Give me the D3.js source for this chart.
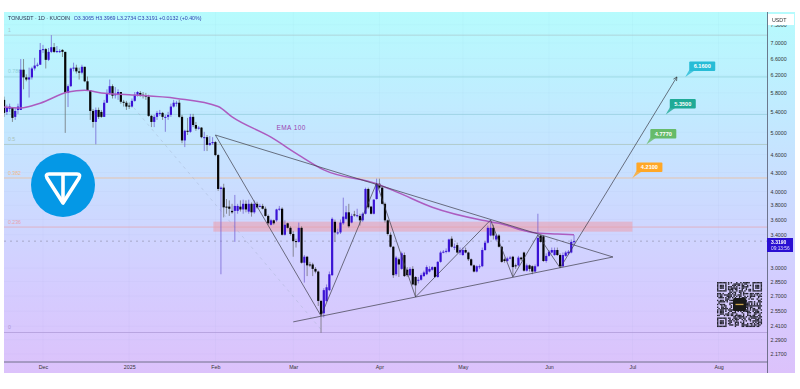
<!DOCTYPE html>
<html><head><meta charset="utf-8">
<script src="https://cdnjs.cloudflare.com/ajax/libs/d3/7.8.5/d3.min.js"></script>
<style>html,body{margin:0;padding:0;background:#fff}svg{display:block;filter:blur(.3px)}text{font-family:"Liberation Sans",Arial,sans-serif}</style>
</head><body><svg id="c" width="800" height="389"></svg>
<script>
const startDate = "2024-11-17";
const opens = [5.65,5.40,5.46,5.49,5.30,5.44,5.44,6.33,6.15,6.10,
6.15,6.36,6.43,6.45,6.82,6.84,6.57,6.77,6.89,6.77,
6.79,6.82,6.77,5.80,5.95,6.36,6.38,6.29,6.26,6.40,
6.06,5.86,5.42,5.20,5.44,5.40,5.30,5.59,5.80,5.95,
5.76,5.76,5.82,5.61,5.59,5.53,5.51,5.63,5.76,5.80,
5.76,5.74,5.72,5.32,5.20,5.30,5.38,5.38,5.30,5.30,
5.34,5.51,5.59,5.59,5.30,4.85,5.03,5.01,5.30,5.14,
5.07,5.09,4.91,4.91,4.77,4.80,4.82,4.59,4.04,4.06,
3.78,3.78,3.72,3.72,3.72,3.78,3.74,3.82,3.71,3.82,
3.70,3.82,3.79,3.79,3.75,3.65,3.53,3.59,3.59,3.74,
3.75,3.40,3.55,3.49,3.41,3.32,3.31,3.49,3.06,3.13,
3.04,3.04,2.99,2.96,2.65,2.53,2.65,2.76,2.92,3.57,
3.43,3.43,3.55,3.61,3.70,3.56,3.67,3.65,3.65,3.59,
3.68,4.04,3.78,3.68,3.89,4.12,4.06,3.82,3.59,3.40,
3.25,2.93,3.10,2.99,3.15,2.98,2.92,2.99,2.90,2.86,
2.87,2.91,2.93,2.96,2.98,3.01,2.90,3.07,3.18,3.19,
3.19,3.35,3.25,3.27,3.18,3.15,3.21,3.18,3.10,3.03,
2.96,3.02,3.02,3.21,3.30,3.39,3.49,3.34,3.39,3.25,
3.10,3.08,3.11,3.13,3.03,3.03,3.12,3.18,2.97,3.03,
3.02,2.96,3.02,3.39,3.38,3.08,3.14,3.18,3.15,3.21,
3.15,3.02,3.14,3.17,3.18,3.3065];
const highs = [5.72,5.55,5.57,5.50,5.49,5.57,6.59,6.59,6.22,6.38,
6.40,6.62,6.50,7.00,6.95,6.87,6.87,7.21,7.00,6.92,
6.84,6.84,6.77,5.99,6.38,6.50,6.45,6.38,6.45,6.40,
6.17,5.86,5.46,5.49,5.49,5.44,5.65,5.88,6.10,5.99,
5.93,5.88,5.82,5.65,5.63,5.59,5.68,5.82,5.84,5.84,
5.82,5.80,5.76,5.34,5.34,5.42,5.44,5.40,5.34,5.40,
5.57,5.65,5.63,5.65,5.34,5.05,5.28,5.36,5.36,5.20,
5.12,5.10,5.01,4.95,4.93,4.91,4.84,4.61,4.08,4.12,
3.89,3.87,3.82,3.95,3.82,3.87,3.88,3.87,3.88,3.84,
3.87,3.85,3.82,3.82,3.78,3.67,3.61,3.60,3.75,3.79,
3.77,3.59,3.56,3.51,3.45,3.35,3.56,3.51,3.15,3.14,
3.07,3.06,3.01,2.97,2.66,2.78,2.82,2.96,3.63,3.60,
3.48,3.60,3.91,3.79,3.82,3.68,3.72,3.75,3.68,3.70,
4.06,4.06,3.79,3.89,4.20,4.20,4.08,3.84,3.60,3.43,
3.26,3.14,3.12,3.19,3.18,3.01,3.01,3.02,2.91,2.90,
2.94,2.97,3.03,3.02,3.02,3.02,3.08,3.20,3.21,3.23,
3.35,3.38,3.29,3.30,3.24,3.24,3.24,3.19,3.11,3.04,
3.03,3.04,3.24,3.32,3.52,3.59,3.53,3.41,3.41,3.26,
3.12,3.13,3.14,3.14,3.05,3.14,3.13,3.19,3.05,3.04,
3.03,3.04,3.68,3.40,3.39,3.17,3.21,3.24,3.24,3.24,
3.17,3.18,3.20,3.21,3.34,3.3969];
const lows = [5.30,5.34,5.40,5.20,5.24,5.36,5.44,5.88,6.06,5.70,
6.10,6.31,6.40,6.45,6.74,6.36,6.54,6.74,6.74,6.74,
6.74,6.64,4.99,5.50,5.93,6.29,6.24,6.10,6.22,6.04,
5.84,5.24,5.09,4.78,5.26,5.28,5.30,5.59,5.76,5.68,
5.68,5.65,5.57,5.51,5.44,5.46,5.49,5.61,5.72,5.72,
5.68,5.65,5.30,5.10,5.10,5.24,5.32,5.24,5.01,5.24,
5.30,5.49,5.51,5.28,4.80,4.73,4.95,4.99,5.10,5.03,
5.05,4.89,4.66,4.66,4.75,4.77,4.57,4.01,2.93,3.63,
3.68,3.65,3.68,3.31,3.68,3.71,3.68,3.70,3.68,3.64,
3.68,3.75,3.77,3.74,3.64,3.53,3.52,3.53,3.57,3.72,
3.39,3.39,3.48,3.39,3.13,3.24,3.30,3.05,2.84,2.91,
3.01,2.91,2.94,2.60,2.35,2.49,2.64,2.75,2.91,3.31,
3.40,3.41,3.53,3.59,3.49,3.55,3.64,3.63,3.52,3.57,
3.67,3.75,3.67,3.67,3.88,4.04,3.81,3.56,3.39,3.24,
2.89,2.91,2.90,2.98,2.90,2.90,2.91,2.81,2.69,2.83,
2.86,2.90,2.92,2.95,2.97,2.89,2.89,3.06,3.17,3.17,
3.18,3.24,3.21,3.17,3.15,3.14,3.17,3.08,3.02,2.95,
2.95,2.99,3.01,3.20,3.29,3.38,3.34,3.32,3.24,3.06,
3.06,3.07,3.10,2.91,2.99,3.02,3.08,2.96,2.96,2.96,
2.93,2.95,3.01,3.30,3.07,3.06,3.13,3.17,3.14,3.14,
3.01,3.01,3.13,3.15,3.17,3.2734];
const closes = [5.38,5.49,5.51,5.28,5.42,5.51,6.33,6.15,6.10,6.15,
6.36,6.43,6.45,6.82,6.84,6.57,6.77,6.89,6.77,6.79,
6.79,6.77,5.80,5.95,6.36,6.38,6.29,6.26,6.40,6.06,
5.86,5.42,5.20,5.44,5.30,5.30,5.59,5.80,5.95,5.74,
5.77,5.82,5.61,5.59,5.51,5.51,5.63,5.76,5.82,5.76,
5.74,5.72,5.32,5.20,5.30,5.38,5.38,5.30,5.30,5.34,
5.51,5.59,5.59,5.30,4.85,5.03,5.01,5.30,5.14,5.07,
5.09,4.91,4.91,4.77,4.80,4.82,4.59,4.04,4.06,3.77,
3.77,3.75,3.70,3.79,3.79,3.74,3.82,3.74,3.82,3.70,
3.82,3.77,3.79,3.75,3.65,3.55,3.59,3.55,3.74,3.75,
3.40,3.53,3.49,3.41,3.32,3.31,3.49,3.06,3.13,3.03,
3.03,2.99,2.96,2.65,2.52,2.76,2.79,2.93,3.61,3.43,
3.43,3.56,3.64,3.70,3.51,3.65,3.66,3.66,3.59,3.68,
4.04,3.77,3.68,3.88,4.12,4.06,3.82,3.59,3.41,3.25,
2.92,3.12,3.04,3.17,2.91,2.92,2.99,2.82,2.81,2.87,
2.92,2.95,3.01,2.99,3.01,2.90,3.07,3.18,3.19,3.20,
3.34,3.25,3.25,3.18,3.21,3.21,3.18,3.10,3.03,2.96,
3.02,3.02,3.21,3.30,3.49,3.49,3.39,3.39,3.25,3.07,
3.08,3.11,3.12,3.01,3.02,3.12,3.10,2.97,3.03,2.99,
2.96,3.02,3.36,3.31,3.08,3.14,3.19,3.21,3.21,3.15,
3.02,3.15,3.18,3.19,3.31,3.3191];

const emaDays   = [0,6,13,23,29,35,45,62,77,82,96,106,115,134,142,154,172,178,190,199,205];
const emaValues = [5.50,5.48,5.58,5.82,5.86,5.80,5.76,5.68,5.51,5.30,4.91,4.59,4.34,4.12,3.98,3.77,3.59,3.55,3.43,3.41,3.40];

const priceTicks = [7.5,7,6.6,6.2,5.8,5.4,5,4.6,4.3,4,3.8,3.6,3.4,3,2.85,2.7,2.55,2.41,2.29,2.17];
const monthTicks = ["2024-12-01","2025-01-01","2025-02-01","2025-03-01","2025-04-01","2025-05-01","2025-06-01","2025-07-01","2025-08-01"];
const monthLabels = ["Dec","2025","Feb","Mar","Apr","May","Jun","Jul","Aug"];

const fibValues = [7.21,6.16,5.35,4.777,4.21,3.50,2.353];
const fibNames  = ["1","0.786","","0.5","0.382","0.236","0"];
const fibColors = ["#a9c6cc","#8fd0da","#90c8da","#a9c2b8","#f0b98a","#e6a3ae","#ab96d4"];

const targetValues = [6.16,5.35,4.777,4.21];
const targetTexts  = ["6.1600","5.3500","4.7770","4.2100"];
const targetDates  = ["2025-07-20","2025-07-13","2025-07-06","2025-07-01"];
const targetColors = ["#27bcd6","#1faa96","#66bb6a","#ffa726"];

const zoneDates = ["2025-02-01","2025-07-01"];
const zonePrices = [3.572,3.44];

const upperLineDates = ["2025-02-01","2025-06-24"];
const upperLinePrices = [4.95,3.127];
const lowerLineDates = ["2025-03-01","2025-06-24"];
const lowerLinePrices = [2.449,3.127];
const zigDates = ["2025-02-01","2025-03-11","2025-03-31","2025-04-14","2025-05-11","2025-05-19","2025-05-28","2025-06-05","2025-06-10"];
const zigPrices = [4.95,2.505,4.13,2.69,3.594,2.90,3.397,3.00,3.27];
const arrowDates = ["2025-06-10","2025-06-16","2025-06-22","2025-06-27","2025-07-17"];
const arrowPrices = [3.27,3.62,4.01,4.37,6.16];
const fadedDates = ["2025-01-01","2025-03-11"];
const fadedPrices = [5.60,2.38];
const lastPrice = 3.3191;

const parse = d3.utcParse("%Y-%m-%d");
const DAY = 864e5;
const x = d3.scaleUtc().domain([parse("2024-12-01"),parse("2025-08-01")]).range([43,718.6]);
const y = d3.scaleLog().domain([7,2.17]).range([43,354]);
const L=4,R=795,T=12,B=373,AX=767.5,AY=362;
const svg = d3.select("#c");
const defs = svg.append("defs");
const g = defs.append("linearGradient").attr("id","bg").attr("x1",0).attr("x2",0).attr("y1",0).attr("y2",1);
[[0,"#b6fbfd"],[.25,"#c0ecff"],[.5,"#cbdcff"],[.75,"#d4cdff"],[1,"#dcc2fb"]].forEach(s=>g.append("stop").attr("offset",s[0]).attr("stop-color",s[1]));
defs.append("clipPath").attr("id","plot").append("rect").attr("x",L).attr("y",T).attr("width",AX-L).attr("height",AY-T);
defs.append("marker").attr("id","arr").attr("viewBox","0 0 8 8").attr("refX",7).attr("refY",4).attr("markerWidth",7).attr("markerHeight",7).attr("orient","auto")
  .append("path").attr("d","M1 1L7 4L1 7").attr("fill","none").attr("stroke","#333").attr("stroke-width",1);

svg.append("rect").attr("x",L).attr("y",T).attr("width",R-L).attr("height",B-T).attr("fill","url(#bg)");
const plot = svg.append("g").attr("clip-path","url(#plot)");

// grid
plot.selectAll(".gh").data(priceTicks).join("line").attr("x1",L).attr("x2",AX).attr("y1",d=>y(d)).attr("y2",d=>y(d)).attr("stroke","#5a6aa0").attr("stroke-opacity",.05).attr("stroke-width",.6);
plot.selectAll(".gv").data(monthTicks).join("line").attr("y1",T).attr("y2",AY).attr("x1",d=>x(parse(d))).attr("x2",d=>x(parse(d))).attr("stroke","#5a6aa0").attr("stroke-opacity",.05).attr("stroke-width",.6);

// zone
plot.append("rect").attr("x",x(parse(zoneDates[0]))-2).attr("width",x(parse(zoneDates[1]))-x(parse(zoneDates[0]))+2)
  .attr("y",y(zonePrices[0])).attr("height",y(zonePrices[1])-y(zonePrices[0])).attr("fill","#f2949e").attr("fill-opacity",.48);

// fib levels
plot.selectAll(".fib").data(fibValues).join("line").attr("x1",L).attr("x2",AX).attr("y1",d=>y(d)).attr("y2",d=>y(d))
  .attr("stroke",(d,i)=>fibColors[i]).attr("stroke-width",.7);
plot.selectAll(".fibt").data(fibValues).join("text").attr("x",8).attr("y",d=>y(d)-3.5).attr("font-size",5.2)
  .attr("fill",(d,i)=>fibColors[i]).text((d,i)=>fibNames[i]);

// last price dashed
plot.append("line").attr("x1",L).attr("x2",AX).attr("y1",y(lastPrice)).attr("y2",y(lastPrice)).attr("stroke","#8a8aa0").attr("stroke-width",.6).attr("stroke-dasharray","2 4");

// faded diagonal
const linePts=(ds,ps)=>ds.map((d,i)=>[x(parse(d)),y(ps[i])]);
plot.append("path").attr("d",d3.line()(linePts(fadedDates,fadedPrices))).attr("fill","none").attr("stroke","#9fb0c8").attr("stroke-opacity",.5).attr("stroke-width",.8).attr("stroke-dasharray","3 4");

// candles
const t0 = parse(startDate).getTime();
const candles = closes.map((c,i)=>({t:new Date(t0+i*DAY),o:opens[i],h:highs[i],l:lows[i],c}));
const UP="#3a12d4",DN="#050505";
const cg = plot.append("g");
cg.selectAll("line").data(candles).join("line")
  .attr("x1",d=>x(d.t)).attr("x2",d=>x(d.t)).attr("y1",d=>y(d.h)).attr("y2",d=>y(d.l))
  .attr("stroke",d=>d.c>=d.o?"#6a58d0":"#666").attr("stroke-width",.7);
cg.selectAll("rect").data(candles).join("rect")
  .attr("x",d=>x(d.t)-1.1).attr("width",2.2)
  .attr("y",d=>y(Math.max(d.o,d.c))).attr("height",d=>Math.max(1,Math.abs(y(d.o)-y(d.c))))
  .attr("fill",d=>d.c>=d.o?UP:DN);

// EMA
const ema = emaDays.map((d,i)=>[x(new Date(t0+d*DAY)),y(emaValues[i])]);
plot.append("path").attr("d",d3.line().curve(d3.curveMonotoneX)(ema)).attr("fill","none").attr("stroke","#ac5cc0").attr("stroke-width",1.5);
svg.append("text").attr("x",x(parse("2025-02-23"))).attr("y",y(5.05)).attr("font-size",6.5).attr("fill","#9a3fb0").attr("letter-spacing",.4).text("EMA 100");

// trend lines
const lineStyle=p=>p.attr("fill","none").attr("stroke","#3c3c48").attr("stroke-width",.7);
[[upperLineDates,upperLinePrices],[lowerLineDates,lowerLinePrices],[zigDates,zigPrices]].forEach(a=>{
  plot.append("path").attr("d",d3.line()(linePts(a[0],a[1]))).call(lineStyle);
});
plot.append("path").attr("d",d3.line().curve(d3.curveMonotoneX)(linePts(arrowDates,arrowPrices))).call(lineStyle).attr("marker-end","url(#arr)");

// target callouts
targetValues.forEach((v,i)=>{
  const tx=x(parse(targetDates[i])), ty=y(v);
  const gg=svg.append("g").attr("transform",`translate(${tx},${ty})`);
  gg.append("path").attr("d","M0 0L4 -7L10 -7Z").attr("fill",targetColors[i]).attr("fill-opacity",.8);
  gg.append("rect").attr("x",4).attr("y",-15.5).attr("width",26).attr("height",9.5).attr("rx",1).attr("fill",targetColors[i]);
  gg.append("text").attr("x",17).attr("y",-8.8).attr("text-anchor","middle").attr("font-size",5.6).attr("font-weight","bold").attr("fill","#fff").text(targetTexts[i]);
});

// axes
const yAxis = d3.axisRight(y).tickValues(priceTicks).tickFormat(d3.format(".4f")).tickSize(0).tickPadding(3);
const ya = svg.append("g").attr("transform",`translate(${AX},0)`).call(yAxis);
ya.select(".domain").remove();
ya.selectAll("text").attr("font-size",5.3).attr("fill","#333").attr("font-family","Liberation Sans");
const xAxis = d3.axisBottom(x).tickValues(monthTicks.map(parse)).tickFormat((d,i)=>monthLabels[i]).tickSize(0).tickPadding(3);
const xa = svg.append("g").attr("transform",`translate(0,${AY})`).call(xAxis);
xa.select(".domain").remove();
xa.selectAll("text").attr("font-size",5.3).attr("fill","#333").attr("font-family","Liberation Sans");
svg.append("line").attr("x1",L).attr("x2",AX).attr("y1",AY).attr("y2",AY).attr("stroke","#555a70").attr("stroke-width",.8);
svg.append("line").attr("x1",AX).attr("x2",AX).attr("y1",T).attr("y2",B).attr("stroke","#555a70").attr("stroke-width",.8);

// USDT box
svg.append("rect").attr("x",768).attr("y",14).attr("width",26).attr("height",11).attr("fill","#fff");
svg.append("text").attr("x",772).attr("y",21.5).attr("font-size",5.3).attr("fill","#333").text("USDT");

// price tag
svg.append("rect").attr("x",767).attr("y",238).attr("width",26).attr("height",14).attr("fill","#2a0fd2");
svg.append("text").attr("x",771).attr("y",243.6).attr("font-size",5).attr("font-weight","bold").attr("fill","#fff").text("3.3190");
svg.append("text").attr("x",771).attr("y",250.4).attr("font-size",4.8).attr("fill","#e4e0ff").text("09:13:56");

// header
const hdr = svg.append("text").attr("x",8).attr("y",19.5).attr("font-size",5.3).attr("fill","#2a3050");
hdr.append("tspan").text("TONUSDT · 1D · KUCOIN");
hdr.append("tspan").attr("dx",3.5).attr("fill","#2f3fb0").text("O3.3065 H3.3969 L3.2734 C3.3191 +0.0132 (+0.40%)");

// TON logo
svg.append("circle").attr("cx",63).attr("cy",185).attr("r",32).attr("fill","#0498e6");
svg.append("path").attr("d","M49 174H77Q81 174 79 178L63 203L47 178Q45 174 49 174Z").attr("fill","none").attr("stroke","#fff").attr("stroke-width",3.6).attr("stroke-linejoin","round");
svg.append("line").attr("x1",63).attr("x2",63).attr("y1",174).attr("y2",202).attr("stroke","#fff").attr("stroke-width",3.6);

// QR badge
const N=33,QX=717,QY=282,QS=45/N;
const qr=svg.append("g");
const isF=(r,c)=>{
  for(const [a,b] of [[0,0],[0,N-7],[N-7,0]]){
    if(r>=a&&r<a+7&&c>=b&&c<b+7){const i=r-a,j=c-b;return (i==0||i==6||j==0||j==6||(i>=2&&i<=4&&j>=2&&j<=4))?1:0;}
    if(r>=a-1&&r<a+8&&c>=b-1&&c<b+8)return 0;
  }
  return -1;
};
const cells=[];
for(let r=0;r<N;r++)for(let c=0;c<N;c++){
  const f=isF(r,c);
  let h=(r*73856093)^(c*19349663)^(r*c*83492791);
  h=(h^(h>>>13))*1274126177; h=h^(h>>>16);
  const on=f>=0?f:((Math.abs(h)%100)<52?1:0);
  if(on)cells.push([r,c]);
}
qr.selectAll("rect").data(cells).join("rect").attr("x",d=>QX+d[1]*QS).attr("y",d=>QY+d[0]*QS).attr("width",QS+.05).attr("height",QS+.05).attr("fill","#23232d");
qr.append("rect").attr("x",QX+16).attr("y",QY+16).attr("width",13).attr("height",13).attr("rx",1.5).attr("fill","#1a1a1a");
qr.append("rect").attr("x",QX+18.5).attr("y",QY+21.8).attr("width",8).attr("height",1.3).attr("fill","#caa24a");
</script></body></html>
